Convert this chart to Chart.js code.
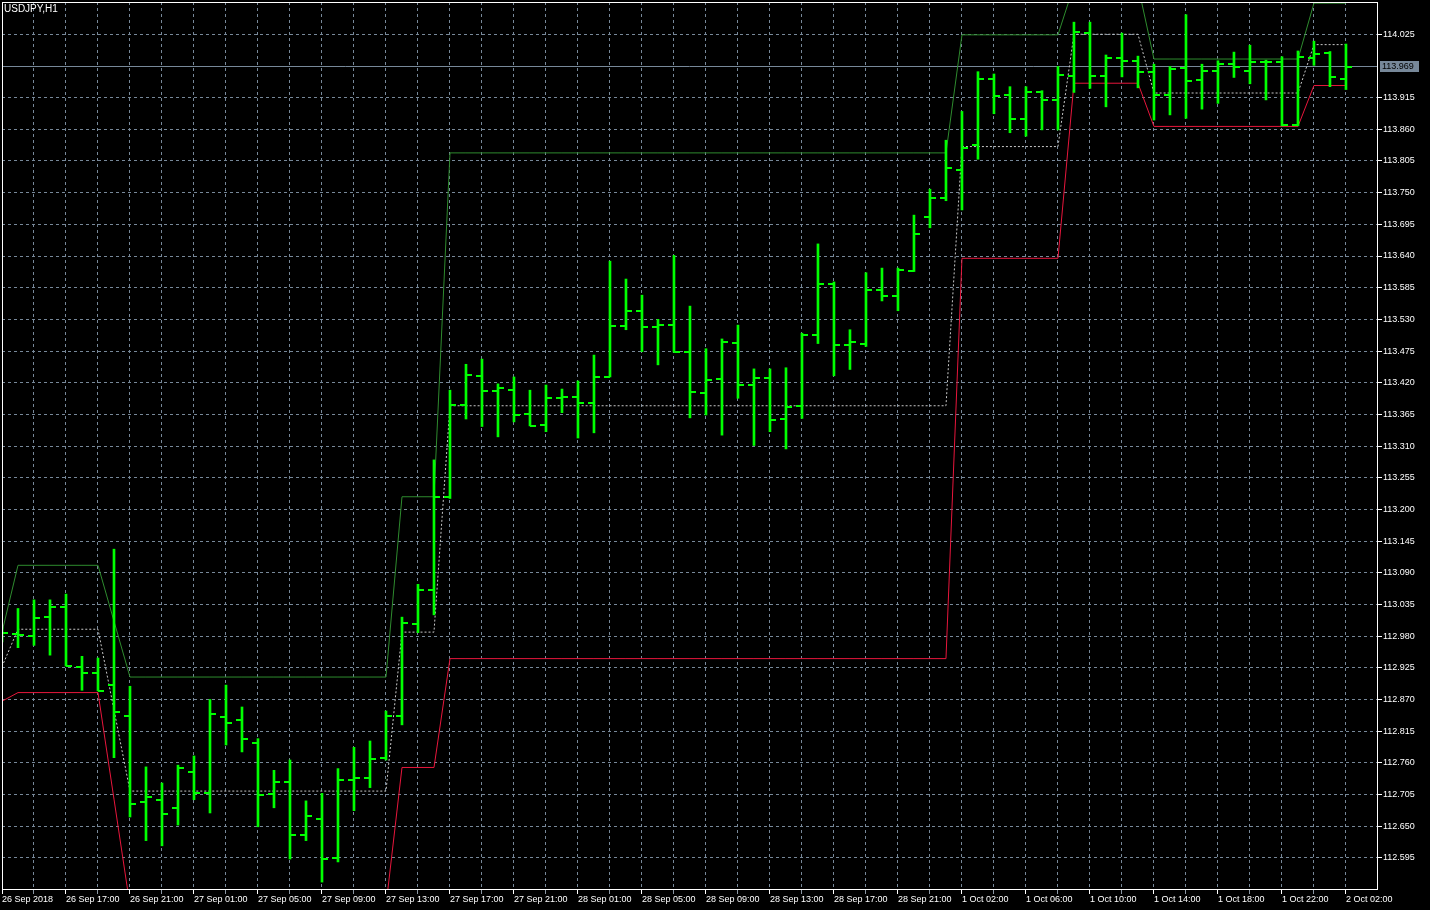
<!DOCTYPE html>
<html>
<head>
<meta charset="utf-8">
<title>USDJPY,H1</title>
<script src="https://cdn.jsdelivr.net/npm/chart.js@4.4.1/dist/chart.umd.min.js"></script>
<style>
  html, body { margin: 0; padding: 0; background: #000; }
  #wrap { width: 1430px; height: 910px; }
</style>
</head>
<body>
<div id="wrap"><canvas id="chart" width="1430" height="910"></canvas></div>
<script>
const symbol = 'USDJPY,H1';

// one label every 4 hourly bars (bar 0, 4, 8 ... 84)
const timeLabels = ['26 Sep 2018', '26 Sep 17:00', '26 Sep 21:00', '27 Sep 01:00', '27 Sep 05:00',
    '27 Sep 09:00', '27 Sep 13:00', '27 Sep 17:00', '27 Sep 21:00', '28 Sep 01:00', '28 Sep 05:00',
    '28 Sep 09:00', '28 Sep 13:00', '28 Sep 17:00', '28 Sep 21:00', '1 Oct 02:00', '1 Oct 06:00',
    '1 Oct 10:00', '1 Oct 14:00', '1 Oct 18:00', '1 Oct 22:00', '2 Oct 02:00'];

const yTicks = [112.595, 112.650, 112.705, 112.760, 112.815, 112.870, 112.925, 112.980, 113.035,
    113.090, 113.145, 113.200, 113.255, 113.310, 113.365, 113.420, 113.475, 113.530, 113.585,
    113.640, 113.695, 113.750, 113.805, 113.860, 113.915, 114.025];

const bid = 113.969;

const opens = [112.980, 112.984, 112.981, 113.014, 113.031, 112.927, 112.916, 112.895, 112.842, 112.692,
    112.696, 112.682, 112.744, 112.707, 112.840, 112.835, 112.795, 112.706, 112.727, 112.634,
    112.662, 112.595, 112.730, 112.733, 112.769, 112.841, 113.001, 113.060, 113.221, 113.382,
    113.432, 113.406, 113.408, 113.366, 113.347, 113.394, 113.396, 113.385, 113.430, 113.518,
    113.545, 113.517, 113.521, 113.473, 113.403, 113.426, 113.489, 113.416, 113.429, 113.357,
    113.380, 113.503, 113.591, 113.485, 113.488, 113.581, 113.571, 113.614, 113.708, 113.741,
    113.789, 113.833, 113.947, 113.920, 113.878, 113.925, 113.911, 113.953, 114.028, 113.953,
    113.984, 113.979, 113.960, 113.920, 113.967, 113.946, 113.962, 113.973, 113.962, 113.976,
    113.976, 113.868, 113.984, 113.993, 113.948];

const highs = [112.995, 113.028, 113.043, 113.043, 113.053, 112.945, 112.942, 113.131, 112.893, 112.753,
    112.725, 112.756, 112.772, 112.870, 112.895, 112.857, 112.802, 112.747, 112.765, 112.694,
    112.707, 112.750, 112.787, 112.798, 112.850, 113.013, 113.070, 113.286, 113.407, 113.452,
    113.461, 113.418, 113.430, 113.407, 113.416, 113.409, 113.423, 113.468, 113.631, 113.600,
    113.572, 113.530, 113.641, 113.553, 113.479, 113.496, 113.520, 113.444, 113.444, 113.446,
    113.506, 113.661, 113.595, 113.512, 113.611, 113.619, 113.619, 113.711, 113.756, 113.841,
    113.891, 113.960, 113.956, 113.934, 113.934, 113.927, 113.969, 114.046, 114.046, 113.989,
    114.027, 113.987, 113.973, 113.969, 114.059, 113.973, 113.979, 113.994, 114.006, 113.980,
    113.986, 113.996, 114.013, 113.995, 114.008];

const lows = [112.970, 112.960, 112.964, 112.947, 112.928, 112.886, 112.885, 112.769, 112.666, 112.625,
    112.616, 112.652, 112.696, 112.673, 112.791, 112.779, 112.649, 112.682, 112.593, 112.625,
    112.553, 112.588, 112.677, 112.717, 112.765, 112.826, 112.986, 113.017, 113.219, 113.357,
    113.344, 113.326, 113.352, 113.345, 113.335, 113.368, 113.324, 113.333, 113.430, 113.512,
    113.474, 113.451, 113.473, 113.359, 113.364, 113.329, 113.393, 113.311, 113.335, 113.305,
    113.358, 113.488, 113.432, 113.443, 113.483, 113.562, 113.545, 113.613, 113.689, 113.736,
    113.720, 113.808, 113.887, 113.854, 113.848, 113.859, 113.859, 113.924, 113.931, 113.899,
    113.951, 113.932, 113.876, 113.885, 113.879, 113.895, 113.905, 113.950, 113.939, 113.911,
    113.866, 113.866, 113.971, 113.934, 113.929];

const closes = [112.986, 112.982, 113.012, 113.031, 112.928, 112.916, 112.885, 112.848, 112.689, 112.701,
    112.671, 112.751, 112.708, 112.845, 112.830, 112.801, 112.704, 112.727, 112.634, 112.668,
    112.593, 112.730, 112.733, 112.766, 112.841, 113.003, 113.060, 113.221, 113.382, 113.433,
    113.406, 113.410, 113.364, 113.345, 113.394, 113.396, 113.385, 113.430, 113.518, 113.545,
    113.517, 113.521, 113.473, 113.404, 113.425, 113.491, 113.416, 113.429, 113.355, 113.378,
    113.503, 113.591, 113.485, 113.491, 113.581, 113.571, 113.616, 113.679, 113.741, 113.793,
    113.828, 113.947, 113.918, 113.878, 113.924, 113.911, 113.954, 114.029, 113.953, 113.984,
    113.979, 113.960, 113.920, 113.965, 113.944, 113.962, 113.973, 113.969, 113.977, 113.976,
    113.868, 113.986, 113.990, 113.950, 113.969];

// channel indicator (upper / lower / middle)
const upperBand = [112.987, 113.103, 113.103, 113.103, 113.103, 113.103, 113.103, 113.006, 112.909, 112.909,
    112.909, 112.909, 112.909, 112.909, 112.909, 112.909, 112.909, 112.909, 112.909, 112.909,
    112.909, 112.909, 112.909, 112.909, 112.909, 113.222, 113.222, 113.222, 113.819, 113.819,
    113.819, 113.819, 113.819, 113.819, 113.819, 113.819, 113.819, 113.819, 113.819, 113.819,
    113.819, 113.819, 113.819, 113.819, 113.819, 113.819, 113.819, 113.819, 113.819, 113.819,
    113.819, 113.819, 113.819, 113.819, 113.819, 113.819, 113.819, 113.819, 113.819, 113.819,
    114.024, 114.024, 114.024, 114.024, 114.024, 114.024, 114.024, 114.110, 114.110, 114.110,
    114.110, 114.110, 113.982, 113.982, 113.982, 113.982, 113.982, 113.982, 113.982, 113.982,
    113.982, 113.982, 114.079, 114.079, 114.079];

const lowerBand = [112.867, 112.882, 112.882, 112.882, 112.882, 112.882, 112.882, 112.697, 112.512, 112.512,
    112.512, 112.512, 112.512, 112.512, 112.512, 112.512, 112.512, 112.512, 112.512, 112.512,
    112.512, 112.512, 112.512, 112.512, 112.512, 112.752, 112.752, 112.752, 112.941, 112.941,
    112.941, 112.941, 112.941, 112.941, 112.941, 112.941, 112.941, 112.941, 112.941, 112.941,
    112.941, 112.941, 112.941, 112.941, 112.941, 112.941, 112.941, 112.941, 112.941, 112.941,
    112.941, 112.941, 112.941, 112.941, 112.941, 112.941, 112.941, 112.941, 112.941, 112.941,
    113.636, 113.636, 113.636, 113.636, 113.636, 113.636, 113.636, 113.940, 113.940, 113.940,
    113.940, 113.940, 113.865, 113.865, 113.865, 113.865, 113.865, 113.865, 113.865, 113.865,
    113.865, 113.865, 113.936, 113.936, 113.936];

const midBand = [112.927, 112.992, 112.992, 112.992, 112.992, 112.992, 112.992, 112.852, 112.711, 112.711,
    112.711, 112.711, 112.711, 112.711, 112.711, 112.711, 112.711, 112.711, 112.711, 112.711,
    112.711, 112.711, 112.711, 112.711, 112.711, 112.987, 112.987, 112.987, 113.380, 113.380,
    113.380, 113.380, 113.380, 113.380, 113.380, 113.380, 113.380, 113.380, 113.380, 113.380,
    113.380, 113.380, 113.380, 113.380, 113.380, 113.380, 113.380, 113.380, 113.380, 113.380,
    113.380, 113.380, 113.380, 113.380, 113.380, 113.380, 113.380, 113.380, 113.380, 113.380,
    113.830, 113.830, 113.830, 113.830, 113.830, 113.830, 113.830, 114.025, 114.025, 114.025,
    114.025, 114.025, 113.923, 113.923, 113.923, 113.923, 113.923, 113.923, 113.923, 113.923,
    113.923, 113.923, 114.007, 114.007, 114.007];

const barColor = '#00ff00';
const gridColor = '#778899';
const font = { family: 'Liberation Sans', size: 9 };

// little 6px open/close ticks used as point styles
function tickImage(left) {
    const c = document.createElement('canvas');
    c.width = 12;
    c.height = 2;
    const g = c.getContext('2d');
    g.fillStyle = barColor;
    g.fillRect(left ? 0 : 6, 0, 6, 2);
    return c;
}

const xy = arr => arr.map((v, i) => ({ x: i, y: v }));

const mtFrame = {
    id: 'mtFrame',
    beforeDraw(chart) {
        const ctx = chart.ctx;
        ctx.save();
        ctx.fillStyle = '#000';
        ctx.fillRect(0, 0, chart.width, chart.height);
        ctx.restore();
    },
    afterDraw(chart) {
        const { ctx, chartArea: a, scales } = chart;
        ctx.save();
        ctx.strokeStyle = '#ffffff';
        ctx.lineWidth = 1;
        ctx.strokeRect(a.left + 0.5, a.top + 0.5, a.right - a.left, a.bottom - a.top);

        ctx.font = '10px "Liberation Sans"';
        ctx.fillStyle = '#ffffff';
        ctx.textBaseline = 'top';
        ctx.fillText(symbol, a.left + 2, a.top + 2);

        // bid price box on the price axis
        const y = Math.round(scales.y.getPixelForValue(bid));
        ctx.fillStyle = gridColor;
        ctx.fillRect(a.right + 3, y - 6, 39, 11);
        ctx.fillStyle = '#000000';
        ctx.font = '9px "Liberation Sans"';
        ctx.textBaseline = 'middle';
        ctx.fillText(bid.toFixed(3), a.right + 5, y);
        ctx.restore();
    }
};

const ctx = document.getElementById('chart').getContext('2d');
new Chart(ctx, {
    data: {
        datasets: [{
            type: 'bar',
            data: highs.map((h, i) => ({ x: i, y: [lows[i], h] })),
            backgroundColor: barColor,
            borderWidth: 0,
            barThickness: 2,
            order: 0
        }, {
            type: 'line',
            data: xy(opens),
            showLine: false,
            pointStyle: tickImage(true),
            pointRadius: 3,
            order: 0
        }, {
            type: 'line',
            data: xy(closes),
            showLine: false,
            pointStyle: tickImage(false),
            pointRadius: 3,
            order: 0
        }, {
            type: 'line',
            data: xy(upperBand),
            borderColor: '#2e8b2e',
            borderWidth: 1,
            pointRadius: 0,
            order: 1
        }, {
            type: 'line',
            data: xy(lowerBand),
            borderColor: '#e8163c',
            borderWidth: 1,
            pointRadius: 0,
            order: 1
        }, {
            type: 'line',
            data: xy(midBand),
            borderColor: '#c8c8c8',
            borderWidth: 1,
            borderDash: [2, 2],
            pointRadius: 0,
            order: 1
        }, {
            type: 'line',
            data: [{ x: 0, y: bid }, { x: 85.94, y: bid }],
            borderColor: gridColor,
            borderWidth: 1,
            pointRadius: 0,
            order: 2
        }]
    },
    options: {
        responsive: false,
        animation: false,
        events: [],
        layout: { autoPadding: false, padding: { left: 2, top: 2, right: 0, bottom: 0 } },
        plugins: {
            legend: { display: false },
            tooltip: { enabled: false }
        },
        scales: {
            x: {
                type: 'linear',
                min: 0,
                max: 85.94,
                offset: false,
                border: { display: false, dash: [3, 3] },
                grid: {
                    offset: false,
                    color: gridColor,
                    borderDash: [3, 3],
                    tickLength: 5,
                    tickBorderDash: [],
                    tickColor: c => (c.index % 2 === 0 ? '#ffffff' : '#8a96a3')
                },
                ticks: {
                    autoSkip: false,
                    maxRotation: 0,
                    minRotation: 0,
                    align: 'start',
                    padding: 0,
                    color: '#ffffff',
                    font: font,
                    callback: v => (v % 4 === 0 ? timeLabels[v / 4] : '')
                },
                afterBuildTicks: scale => {
                    const t = [];
                    for (let i = 0; i <= 84; i += 2) t.push({ value: i });
                    scale.ticks = t;
                },
                afterFit: scale => {
                    scale.height = 21;
                    scale.paddingLeft = 0;
                    scale.paddingRight = 0;
                }
            },
            y: {
                position: 'right',
                min: 112.541,
                max: 114.081,
                border: { display: false, dash: [3, 3] },
                grid: {
                    color: gridColor,
                    borderDash: [3, 3],
                    tickLength: 5,
                    tickBorderDash: [],
                    tickColor: '#ffffff'
                },
                ticks: {
                    padding: 1,
                    color: '#ffffff',
                    font: font,
                    callback: v => v.toFixed(3)
                },
                afterBuildTicks: scale => {
                    scale.ticks = yTicks.map(v => ({ value: v }));
                },
                afterFit: scale => {
                    scale.width = 53;
                    scale.paddingTop = 0;
                    scale.paddingBottom = 0;
                }
            }
        }
    },
    plugins: [mtFrame]
});
</script>
</body>
</html>
